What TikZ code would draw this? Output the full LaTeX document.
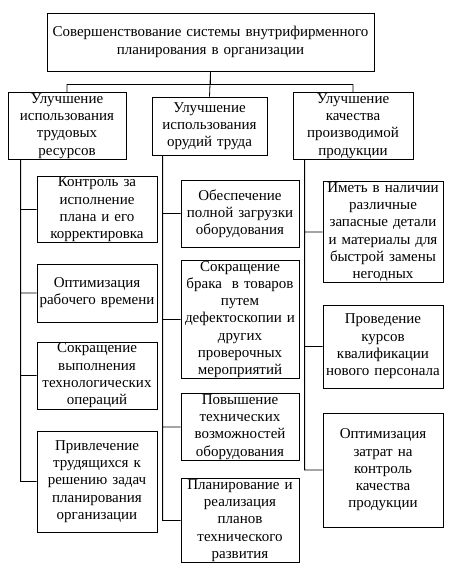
\documentclass[tikz,border=0pt]{standalone}
\usepackage{fontspec}
\setmainfont{Liberation Serif}
\usetikzlibrary{calc, positioning}

\tikzset{
    box/.style={draw, line width=0.8pt, align=center, inner xsep=-4pt, inner ysep=1pt,
        font=\fontsize{15}{17.25}\selectfont},
    link/.style={line width=0.8pt}
}

\begin{document}
\begin{tikzpicture}
                    \useasboundingbox (0, 0) rectangle (452pt, -568pt);

                    % top and second level
                    \node[box, text width=335pt, minimum height=58pt] (top) at (210.5pt, -42pt)
                        {Совершенствование системы внутрифирменного\\ планирования в организации};
                    \node[box, text width=126pt, minimum height=58pt] (lab) at (67pt, -126pt)
                        {Улучшение\\ использования\\ трудовых\\ ресурсов};
                    \node[box, text width=123pt, minimum height=58pt] (tool) at (209.5pt, -126pt)
                        {Улучшение\\ использования\\ орудий труда};
                    \node[box, text width=128pt, minimum height=58pt] (qual) at (353pt, -126pt)
                        {Улучшение\\ качества\\ производимой\\ продукции};

                    % left column
                    \node[box, text width=128pt, minimum height=59pt] (a1) at (97pt, -209.5pt)
                        {Контроль за\\ исполнение\\ плана и его\\ корректировка};
                    \node[box, text width=128pt, minimum height=58pt] (a2) at (97pt, -293pt)
                        {Оптимизация\\ рабочего времени};
                    \node[box, text width=128pt, minimum height=59pt] (a3) at (97pt, -375.5pt)
                        {Сокращение\\ выполнения\\ технологических\\ операций};
                    \node[box, text width=128pt, minimum height=101pt] (a4) at (97pt, -481.5pt)
                        {Привлечение\\ трудящихся к\\ решению задач\\ планирования\\ организации};

                    % middle column
                    \node[box, text width=126pt, minimum height=67pt] (b1) at (240pt, -213.5pt)
                        {Обеспечение\\ полной загрузки\\ оборудования};
                    \node[box, text width=126pt, minimum height=109pt] (b2) at (240pt, -319.5pt)
                        {Сокращение\\ брака\ \ в товаров\\ путем\\ дефектоскопии и\\ других\\ проверочных\\ мероприятий};
                    \node[box, text width=126pt, minimum height=58pt] (b3) at (240pt, -427pt)
                        {Повышение\\ технических\\ возможностей\\ оборудования};
                    \node[box, text width=126pt, minimum height=77pt] (b4) at (240pt, -520.5pt)
                        {Планирование и\\ реализация\\ планов\\ технического\\ развития};

                    % right column
                    \node[box, text width=128pt, minimum height=98pt] (c1) at (383pt, -232pt)
                        {Иметь в наличии\\ различные\\ запасные детали\\ и материалы для\\ быстрой замены\\ негодных};
                    \node[box, text width=128pt, minimum height=83pt] (c2) at (383pt, -346.5pt)
                        {Проведение\\ курсов\\ квалификации\\ нового персонала};
                    \node[box, text width=128pt, minimum height=114pt] (c3) at (383pt, -470pt)
                        {Оптимизация\\ затрат на\\ контроль\\ качества\\ продукции};

                    \coordinate (labT) at ($(lab.south west) + (13pt, 0)$);
                    \coordinate (toolT) at ($(tool.south west) + (11pt, 0)$);
                    \coordinate (qualT) at ($(qual.south west) + (12pt, 0)$);

                    \draw[link]
                    (top.south) -- ++(0, -13pt) -| (lab.north)
                    (top.south) -- ++(0, -13pt) -| (qual.north)
                    (top.south) -- (tool.north)
                    (labT) |- (a1.west)
                    (labT) |- (a2.west)
                    (labT) |- (a3.west)
                    (labT) |- (a4.west)
                    (toolT) |- (b1.west)
                    (toolT) |- (b2.west)
                    (toolT) |- (b3.west)
                    (toolT) |- (b4.west)
                    (qualT) |- (c1.west)
                    (qualT) |- (c2.west)
                    (qualT) |- (c3.west);
                \end{tikzpicture}
\end{document}
